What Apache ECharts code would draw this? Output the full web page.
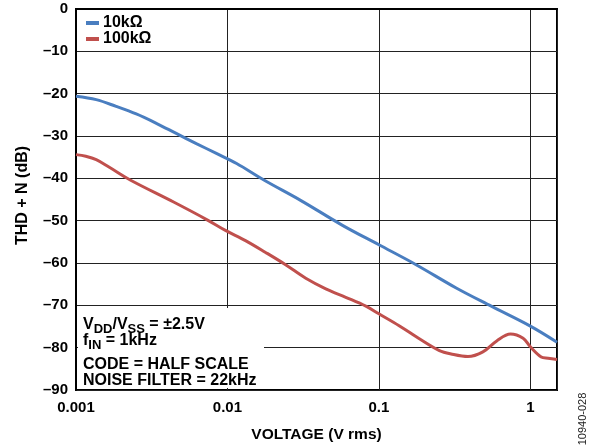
<!DOCTYPE html>
<html><head><meta charset="utf-8">
<script src="https://cdn.jsdelivr.net/npm/echarts@6/dist/echarts.min.js"></script>
<style>html,body{margin:0;padding:0;background:#fff}#c{width:590px;height:448px}</style>
</head><body><div id="c"></div>
<script>
const seriesNames = ['10kΩ', '100kΩ'];
const seriesColors = ['#4A7EC0', '#C0504D'];
const xTickValues = [0.001, 0.01, 0.1, 1];
const xTickLabels = ['0.001', '0.01', '0.1', '1'];
const yTickValues = [0, -10, -20, -30, -40, -50, -60, -70, -80, -90];
const yTickLabels = ['0', '–10', '–20', '–30', '–40', '–50', '–60', '–70', '–80', '–90'];

const volt10k = [0.001, 0.00136, 0.00184, 0.0025, 0.00339, 0.00459, 0.00623, 0.00845, 0.0115, 0.0174, 0.0304, 0.0575, 0.1, 0.176, 0.324, 0.552, 1, 1.5];
const thd10k  = [-20.6, -21.4, -23.0, -24.8, -27.0, -29.4, -31.8, -34.1, -36.5, -40.4, -45.2, -51.1, -55.7, -60.4, -65.9, -70.2, -74.9, -78.7];

const volt100k = [0.001, 0.00116, 0.00136, 0.00166, 0.00228, 0.00441, 0.00734, 0.0097, 0.01315, 0.01786, 0.0242, 0.0329, 0.0446, 0.0604, 0.082, 0.1, 0.136, 0.185, 0.251, 0.3, 0.387, 0.486, 0.6, 0.74, 0.896, 1.0, 1.18, 1.31, 1.5];
const thd100k  = [-34.4, -34.8, -35.6, -37.4, -40.4, -45.6, -49.8, -52.3, -54.7, -57.5, -60.4, -63.6, -66.1, -68.1, -70.2, -72.0, -74.8, -77.9, -80.7, -81.5, -82.1, -81.0, -78.4, -76.8, -77.8, -79.8, -82.2, -82.5, -82.8];

const annoLines = [
  [['V', 0], ['DD', 1], ['/V', 0], ['SS', 1], [' = ±2.5V', 0]],
  [['f', 0], ['IN', 1], [' = 1kHz', 0]],
  [['CODE = HALF SCALE', 0]],
  [['NOISE FILTER = 22kHz', 0]]
];
const sideLabel = '10940-028';

const FONT = '"Liberation Sans", Arial, Helvetica, sans-serif';
const zip = (xs, ys) => xs.map((x, i) => [x, ys[i]]);
const matchLabel = (v, vals, labels, log) => {
  for (let i = 0; i < vals.length; i++) {
    const a = log ? Math.log10(v) : v, b = log ? Math.log10(vals[i]) : vals[i];
    if (Math.abs(a - b) < 1e-6) return labels[i];
  }
  return '';
};

// annotation graphics (layout only)
const ctx = document.createElement('canvas').getContext('2d');
const measure = (t, s) => { ctx.font = 'bold ' + s + 'px ' + FONT; return ctx.measureText(t).width; };
const baselines = [329.5, 346, 369.5, 385.5];
const MAIN = 16, SUB = 13, DROP = 3.5;
const graphics = [{
  type: 'rect', z: 1, silent: true,
  shape: { x: 78, y: 308, width: 186, height: 80 },
  style: { fill: '#fff' }
}];
annoLines.forEach((line, li) => {
  let x = 83;
  line.forEach(([t, sub]) => {
    const s = sub ? SUB : MAIN;
    const base = baselines[li] + (sub ? DROP : 0);
    graphics.push({
      type: 'text', z: 3, silent: true, x: x, y: base - 0.31 * s,
      style: { text: t, font: 'bold ' + s + 'px ' + FONT, fill: '#000', align: 'left', verticalAlign: 'middle' }
    });
    x += measure(t, s);
  });
});
graphics.push({
  type: 'text', z: 3, silent: true, x: 583, y: 419, rotation: Math.PI / 2,
  style: { text: sideLabel, font: '11px ' + FONT, fill: '#222', align: 'center', verticalAlign: 'middle' }
});

const chart = echarts.init(document.getElementById('c'), null, { renderer: 'canvas' });
chart.setOption({
  animation: false,
  textStyle: { fontFamily: FONT, fontWeight: 'bold', color: '#000' },
  grid: { left: 76, right: 33, top: 9, bottom: 57, show: true, borderColor: '#000', borderWidth: 2, backgroundColor: 'transparent' },
  legend: {
    orient: 'vertical', left: 86, top: 15, padding: 0, icon: 'rect', itemWidth: 13, itemHeight: 4, itemGap: 0,
    textStyle: { fontFamily: FONT, fontWeight: 'bold', fontSize: 16, color: '#000', lineHeight: 15, padding: [0, 0, 0, -1] },
    data: seriesNames
  },
  xAxis: {
    type: 'log', logBase: 10, min: 0.001, max: 1.5,
    name: 'VOLTAGE (V rms)', nameLocation: 'middle', nameGap: 37,
    nameTextStyle: { fontFamily: FONT, fontWeight: 'bold', fontSize: 15.5, color: '#000' },
    axisLine: { lineStyle: { color: '#000', width: 2 } },
    axisTick: { show: false },
    axisLabel: { margin: 10, fontFamily: FONT, fontWeight: 'bold', fontSize: 15, color: '#000',
      formatter: v => matchLabel(v, xTickValues, xTickLabels, true) },
    splitLine: { show: true, lineStyle: { color: '#222', width: 1 } },
    minorSplitLine: { show: false }
  },
  yAxis: {
    type: 'value', min: -90, max: 0, interval: 10,
    name: 'THD + N (dB)', nameLocation: 'middle', nameGap: 45,
    nameTextStyle: { fontFamily: FONT, fontWeight: 'bold', fontSize: 16, color: '#000', padding: [0, 0, 0, 8] },
    axisLine: { show: true, lineStyle: { color: '#000', width: 2 } },
    axisTick: { show: false },
    axisLabel: { margin: 8, fontFamily: FONT, fontWeight: 'bold', fontSize: 15, color: '#000',
      formatter: v => matchLabel(v, yTickValues, yTickLabels, false) },
    splitLine: { show: true, lineStyle: { color: '#222', width: 1 } }
  },
  series: [
    { name: seriesNames[0], type: 'line', data: zip(volt10k, thd10k), showSymbol: false, smooth: 0.35,
      lineStyle: { color: seriesColors[0], width: 3 }, itemStyle: { color: seriesColors[0] }, z: 2 },
    { name: seriesNames[1], type: 'line', data: zip(volt100k, thd100k), showSymbol: false, smooth: 0.35,
      lineStyle: { color: seriesColors[1], width: 3 }, itemStyle: { color: seriesColors[1] }, z: 2 }
  ],
  graphic: graphics
});
</script></body></html>
